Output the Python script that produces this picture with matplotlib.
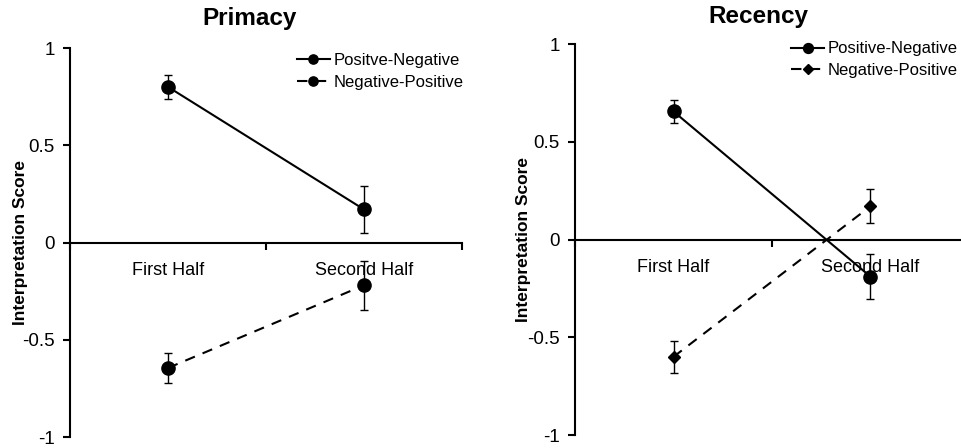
import numpy as np
import matplotlib.pyplot as plt

# category labels and series (means with error bars)
halves = ['First Half', 'Second Half']

prim_pn = [0.80, 0.17]
prim_pn_err = [0.06, 0.12]
prim_np = [-0.645, -0.22]
prim_np_err = [0.075, 0.125]

rec_pn = [0.655, -0.19]
rec_pn_err = [0.06, 0.115]
rec_np = [-0.60, 0.17]
rec_np_err = [0.082, 0.087]

plt.rcParams['font.family'] = ['Liberation Sans', 'DejaVu Sans']

fig = plt.figure(figsize=(9.61, 4.48), dpi=100)
ax1 = fig.add_axes([70 / 961, 1 - 437 / 448, 392 / 961, 389 / 448])
ax2 = fig.add_axes([575 / 961, 1 - 435 / 448, 394 / 961, 391 / 448])


def style_panel(ax, title, title_x, title_y, ylab_x):
    xpos = np.arange(len(halves)) + 0.5
    ax.set_xlim(0, 2)
    ax.set_ylim(-1, 1)
    for s in ['top', 'right']:
        ax.spines[s].set_visible(False)
    ax.spines['bottom'].set_position(('data', 0))
    ax.spines['left'].set_linewidth(1.5)
    ax.spines['bottom'].set_linewidth(1.5)
    ax.set_xticks([0, 1, 2])
    ax.set_xticklabels([])
    ax.tick_params(axis='x', which='major', direction='out', length=5, width=1.5)
    ax.set_xticks(xpos, minor=True)
    ax.set_xticklabels(halves, minor=True, fontsize=13)
    ax.tick_params(axis='x', which='minor', length=0, pad=14)
    ax.set_yticks([-1, -0.5, 0, 0.5, 1])
    ax.set_yticklabels(['-1', '-0.5', '0', '0.5', '1'], fontsize=13.5)
    ax.tick_params(axis='y', direction='out', length=5, width=1.5, pad=6)
    ax.set_ylabel('Interpretation Score', fontsize=12.5, fontweight='bold')
    ax.yaxis.set_label_coords(ylab_x, 0.5)
    fig.text(title_x, title_y, title, fontsize=17.5, fontweight='bold', ha='center', va='center')
    return xpos


x = style_panel(ax1, 'Primacy', 250 / 961, 1 - 18 / 448, -0.107)
ax1.errorbar(x, prim_pn, yerr=prim_pn_err, color='black', lw=1.5, marker='o', ms=9.5,
             capsize=3, elinewidth=1, label='Positve-Negative')
ax1.errorbar(x, prim_np, yerr=prim_np_err, color='black', lw=1.5, ls='--', dashes=(5, 4),
             marker='o', ms=9.5, capsize=3, elinewidth=1, label='Negative-Positive')
h, l = ax1.get_legend_handles_labels()
ax1.legend([hh[0] for hh in h], l, loc='upper left', bbox_to_anchor=(0.54, 1.025),
           frameon=False, fontsize=12, handlelength=2.0, handletextpad=0.2,
           labelspacing=0.4, markerscale=0.7)

x = style_panel(ax2, 'Recency', 758 / 961, 1 - 17 / 448, -0.112)
ax2.errorbar(x, rec_pn, yerr=rec_pn_err, color='black', lw=1.5, marker='o', ms=9.5,
             capsize=3, elinewidth=1, label='Positive-Negative')
ax2.errorbar(x, rec_np, yerr=rec_np_err, color='black', lw=1.5, ls='--', dashes=(5, 4),
             marker='D', ms=6.5, capsize=3, elinewidth=1, label='Negative-Positive')
h, l = ax2.get_legend_handles_labels()
ax2.legend([hh[0] for hh in h], l, loc='upper left', bbox_to_anchor=(0.51, 1.045),
           frameon=False, fontsize=12, handlelength=2.0, handletextpad=0.2,
           labelspacing=0.4, markerscale=0.75)

fig.savefig('out.png', dpi=100)
